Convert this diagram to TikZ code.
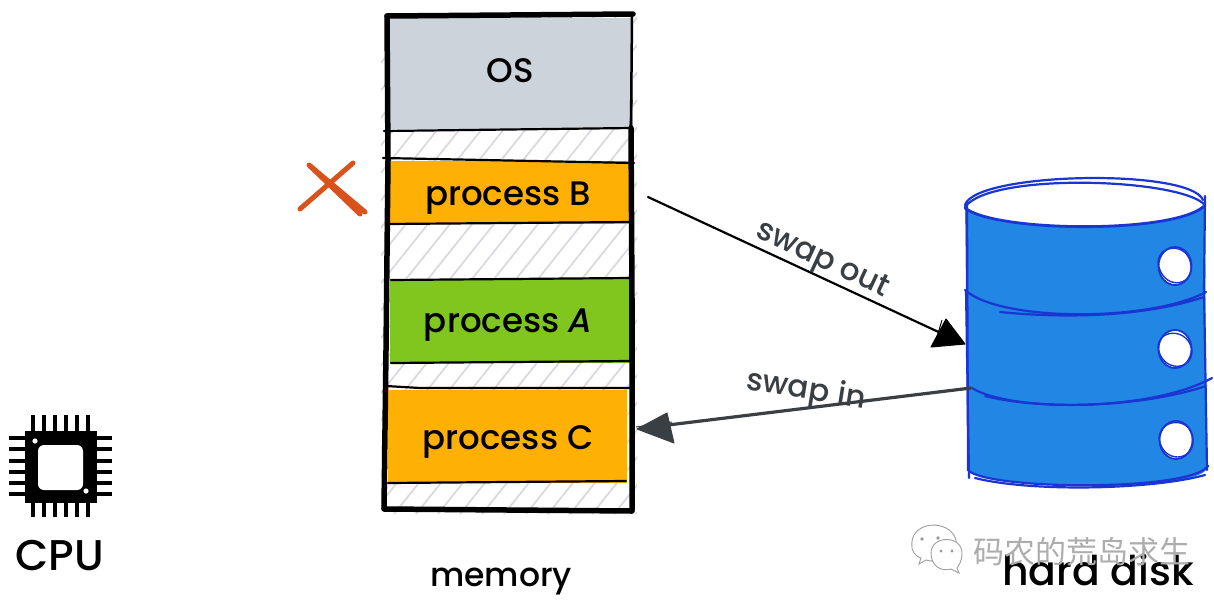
\documentclass[tikz,border=0pt]{standalone}
\usepackage{fontspec}
\setmainfont{Poppins Medium}[ItalicFont={Poppins Medium Italic}]
\newfontfamily\cjkfont{Noto Sans CJK SC}
\usetikzlibrary{arrows.meta,shapes.geometric}
\definecolor{osgray}{HTML}{CDD3DA}
\definecolor{procorange}{HTML}{FFB005}
\definecolor{procgreen}{HTML}{80C61F}
\definecolor{diskblue}{HTML}{2286E4}
\definecolor{diskline}{HTML}{1A35D2}
\definecolor{hatchgray}{HTML}{D6D9DD}
\definecolor{crossred}{HTML}{D9521C}
\definecolor{inkgray}{HTML}{3A3F44}
\tikzset{
  x=1pt,y=-1pt,
  block/.style={draw=none,inner sep=0pt,outer sep=0pt,anchor=north west},
  label/.style={font=\fontsize{33}{38}\selectfont,text=black,inner sep=0pt,anchor=base},
  smalllabel/.style={font=\fontsize{31}{36}\selectfont,text=inkgray,inner sep=0pt},
  heavy/.style={draw=black,line width=5.5pt,line cap=round,line join=round},
  thin ink/.style={draw=black,line width=2.2pt,line cap=round},
  disk stroke/.style={draw=diskline,line width=2.2pt,line cap=round},
  hole/.style={ellipse,fill=white,draw=diskline,line width=1.8pt,inner sep=0pt,minimum width=33pt,minimum height=38pt},
  pin/.style={draw=black,line width=4.5pt},
  cross/.style={draw=crossred,line width=5pt,line cap=round},
  mark line/.style={draw=white!62!black,line width=.9pt},
}
\begin{document}
\begin{tikzpicture}
\useasboundingbox (0,0) rectangle (1214,611);
\fill[white] (0,0) rectangle (1214,611);
% hatching
\begin{scope}
\clip (381,14) rectangle (637,514);
\foreach \i in {0,...,38}{
  \draw[hatchgray,line width=1.7pt] ({20+\i*22},514) -- ({20+\i*22+400},14);
}
\end{scope}
% memory blocks
\node[block,fill=osgray,minimum width=245pt,minimum height=111pt] (os) at (388,18) {};
\node[block,fill=procorange,minimum width=247pt,minimum height=63pt] (procb) at (385,161) {};
\node[block,fill=procgreen,minimum width=240pt,minimum height=84pt] (proca) at (390,279) {};
\node[block,fill=procorange,minimum width=239pt,minimum height=93pt] (procc) at (388,390) {};
\node[label,font=\fontsize{34}{38}\selectfont] (ostext) at (510,82) {OS};
\node[label,font=\fontsize{34}{38}\selectfont] (btext) at (508,205) {process B};
\node[label,font=\fontsize{34}{38}\selectfont] (atext) at (508,332) {process \textit{A}};
\node[label,font=\fontsize{34}{38}\selectfont] (ctext) at (508,449) {process C};
% memory outline
\draw[heavy] (387,16) -- (633,14);
\draw[heavy] (387,16) -- (388,160) -- (386,350) -- (384,508);
\draw[heavy] (631,128) -- (632,300) -- (632,510);
\draw[heavy,line width=2.5pt] (632,14) -- (631,128);
\draw[heavy] (384,509) -- (632,511);
% block dividers
\draw[thin ink] (384,131) -- (632,128);
\draw[thin ink] (383,158) -- (634,163);
\draw[thin ink] (386,224) -- (632,222);
\draw[thin ink] (391,280) -- (630,278);
\draw[thin ink] (391,363) -- (630,361);
\draw[thin ink] (386,386) -- (420,388) -- (630,388);
\draw[thin ink] (388,483) -- (626,481);
\draw[draw=black,line width=1pt] (629,280) -- (629,362);
\draw[draw=black,line width=1.5pt] (632,100) -- (630,128);
% disk body
\path[fill=diskblue] (965,203) -- (968,470) .. controls (985,490) and (1190,492) .. (1206,470) -- (1205,203) -- cycle;
\node[ellipse,fill=white,draw=none,minimum width=238pt,minimum height=48pt,inner sep=0pt] (disktop) at (1084,203) {};
\draw[disk stroke] (965,205) .. controls (975,172) and (1190,168) .. (1203,200);
\draw[disk stroke] (965,207) .. controls (990,172) and (1180,178) .. (1205,205);
\draw[disk stroke,line width=2.8pt] (965,208) .. controls (995,232) and (1170,234) .. (1203,207);
\draw[disk stroke] (967,203) -- (968,470) .. controls (985,490) and (1190,492) .. (1208,466);
\draw[disk stroke] (966,290) -- (969,478);
\draw[disk stroke] (1205,196) -- (1204,290) -- (1207,470);
\draw[disk stroke] (965,290) .. controls (1000,322) and (1150,322) .. (1206,292);
\draw[disk stroke] (1000,312) .. controls (1060,318) and (1140,318) .. (1204,297);
\draw[disk stroke] (972,388) .. controls (1010,412) and (1150,412) .. (1212,378);
\draw[disk stroke] (985,396) .. controls (1040,410) and (1140,408) .. (1206,386);
\draw[disk stroke] (975,478) .. controls (1030,492) and (1150,490) .. (1205,475);
\node[hole] (hole1) at (1175,266) {};
\node[hole] (hole2) at (1175,349) {};
\node[hole] (hole3) at (1176,440) {};
\draw[disk stroke,line width=1.4pt] (1158,262) .. controls (1159,244) and (1189,242) .. (1191,266) .. controls (1193,288) and (1161,290) .. (1158,262);
\draw[disk stroke,line width=1.4pt] (1158,347) .. controls (1159,328) and (1189,328) .. (1192,351) .. controls (1192,372) and (1161,372) .. (1158,347);
\draw[disk stroke,line width=1.4pt] (1159,438) .. controls (1160,418) and (1192,416) .. (1193,440) .. controls (1194,462) and (1162,464) .. (1159,438);
% connectors
\coordinate (outstart) at (648,197);
\coordinate (outend) at (965,344);
\coordinate (instart) at (971,388);
\coordinate (inend) at (637,429);
\draw[black,line width=2.2pt,line cap=round] (outstart) -- (945,335);
\path[fill=black,draw=black,line width=1pt,line join=round] (outend) -- (946,319) -- (931,347) -- cycle;
\draw[black,line width=1pt] (942,320) -- (934,347);
\draw[inkgray,line width=3.2pt] (instart) -- (668,425);
\path[fill=inkgray,draw=inkgray,line width=1pt,line join=round] (inend) -- (667,413) -- (674,443) -- cycle;
\draw[inkgray,line width=1pt] (636,427) -- (672,422);
\node[smalllabel,rotate=-25] (outlabel) at (822,261) {swap out};
\node[smalllabel,rotate=-9] (inlabel) at (806,391) {swap in};
% cross
\draw[cross] (309,165) -- (365,212);
\draw[cross] (310,166) -- (360,214);
\draw[cross] (353,163) -- (300,209);
% chip
\foreach \p in {33,44,55,66,77,88}{\draw[pin] (\p,415) -- (\p,517);}
\foreach \p in {438,449,461,472,483,494}{\draw[pin] (9,\p) -- (112,\p);}
\path[fill=black] (25,431) rectangle (97,503);
\path[fill=white,rounded corners=6pt] (38,445) rectangle (83,490);
\fill[white] (35,441) circle (2.6);
\fill[white] (86,491) circle (2.6);
% bottom labels
\node[label,font=\fontsize{43}{48}\selectfont] (cpu) at (60,570) {CPU};
\node[label,font=\fontsize{33}{38}\selectfont] (memory) at (501,586) {memory};
\node[label,font=\fontsize{41}{45}\selectfont] (disklabel) at (1098,585) {hard disk};
% watermark
\node[font=\cjkfont\fontsize{31}{36}\selectfont,text=black!32,inner sep=0pt] (wm) at (1082,552) {码农的荒岛求生};
\draw[mark line,fill=white] (912,548) .. controls (908,520) and (950,518) .. (956,540) .. controls (958,555) and (935,564) .. (926,560) -- (919,564) -- (921,558) .. controls (915,556) and (913,552) .. (912,548) -- cycle;
\draw[mark line,fill=white] (931,553) .. controls (931,535) and (962,535) .. (962,553) .. controls (962,562) and (958,566) .. (957,568) -- (959,573) -- (951,569) .. controls (941,572) and (931,566) .. (931,553) -- cycle;
\fill[black!40] (922,539) circle (1.8) (938,538) circle (1.8) (941,551) circle (1.6) (952,551) circle (1.6);
\end{tikzpicture}
\end{document}
